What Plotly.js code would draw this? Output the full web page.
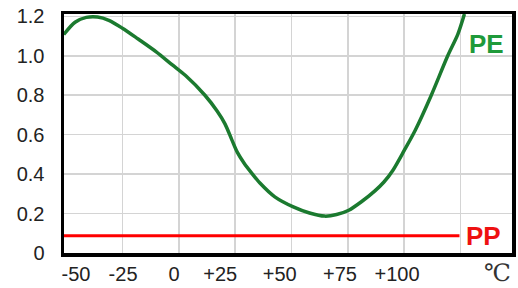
<!DOCTYPE html>
<html>
<head>
<meta charset="utf-8">
<script src="https://cdn.plot.ly/plotly-3.0.1.min.js"></script>
<style>html,body{margin:0;padding:0;background:#fff;}#chart{width:518px;height:288px;}</style>
</head>
<body>
<div id="chart"></div>
<script>
// PE curve (temperature °C vs value)
const peTemp = [-51, -46, -41, -36, -31, -25, -18, -10, -3, 3, 11.6, 17, 20.5, 23.5, 26, 29, 32, 36, 42.6, 50.8, 58, 64.7, 70, 75.4, 81, 87, 91, 95, 100, 105, 112, 119.3, 123.8, 126.7];
const peVal  = [1.108, 1.17, 1.195, 1.197, 1.18, 1.14, 1.085, 1.02, 0.955, 0.9, 0.8, 0.72, 0.655, 0.575, 0.51, 0.455, 0.41, 0.355, 0.285, 0.234, 0.203, 0.187, 0.195, 0.217, 0.26, 0.315, 0.36, 0.42, 0.52, 0.625, 0.80, 1.0, 1.11, 1.212];
// PP line
const ppTemp = [-51, 124.5];
const ppVal  = [0.087, 0.087];
// Axis tick labels
const xGridVals = [-25, 0, 25, 50, 75, 100, 125];
const xLabelPos = [-45.6, -24.7, -2.1, 18.4, 44.8, 71.5, 96.8];
const xLabelText = ["-50", "-25", "0", "+25", "+50", "+75", "+100"];
const yTickVals = [0, 0.2, 0.4, 0.6, 0.8, 1.0, 1.2];
const yTickText = ["0", "0.2", "0.4", "0.6", "0.8", "1.0", "1.2"];
const seriesNames = ["PE", "PP"];
const unitLabel = "\u2103";

const xRange = [-50.9, 147.8];
const yRange = [0, 1.212];

const traces = [
  {x: peTemp, y: peVal, type: 'scatter', mode: 'lines', name: seriesNames[0],
   line: {color: '#1b7a2f', width: 3.5, shape: 'spline', smoothing: 0.8}, xaxis: 'x', yaxis: 'y'},
  {x: ppTemp, y: ppVal, type: 'scatter', mode: 'lines', name: seriesNames[1],
   line: {color: '#ff0000', width: 3}, xaxis: 'x', yaxis: 'y'},
  {x: xRange, y: [null, null], type: 'scatter', mode: 'lines', xaxis: 'x2', yaxis: 'y', hoverinfo: 'skip', showlegend: false}
];

const layout = {
  width: 518, height: 288,
  margin: {l: 64, r: 6, t: 14, b: 35, pad: 0},
  paper_bgcolor: '#ffffff', plot_bgcolor: '#ffffff',
  showlegend: false,
  font: {family: '"Liberation Sans", Arial, sans-serif', color: '#222'},
  xaxis: {
    range: xRange, tickvals: xGridVals, showticklabels: false,
    showgrid: true, gridcolor: '#d4d4d4', gridwidth: 1.5,
    zeroline: false, showline: true, linecolor: '#000', linewidth: 3.5, mirror: true, ticks: ''
  },
  xaxis2: {
    overlaying: 'x', side: 'bottom', range: xRange,
    tickvals: xLabelPos, ticktext: xLabelText, showgrid: false, zeroline: false, showline: false,
    ticks: '', ticklabelstandoff: 7, tickfont: {size: 20, color: '#222'}
  },
  yaxis: {
    range: yRange, tickvals: yTickVals, ticktext: yTickText,
    showgrid: true, gridcolor: '#d4d4d4', gridwidth: 1.5,
    zeroline: false, showline: true, linecolor: '#000', linewidth: 3.5, mirror: true, ticks: '',
    ticklabelstandoff: 12, tickfont: {size: 20, color: '#222'}
  },
  annotations: [
    {x: 136.6, y: 1.06, xref: 'x', yref: 'y', text: '<b>' + seriesNames[0] + '</b>', showarrow: false,
     font: {size: 26, color: '#1f9a3a', family: '"Liberation Sans", Arial, sans-serif'}},
    {x: 135, y: 0.085, xref: 'x', yref: 'y', text: '<b>' + seriesNames[1] + '</b>', showarrow: false,
     font: {size: 26, color: '#ee1111', family: '"Liberation Sans", Arial, sans-serif'}},
    {x: 0.967, y: -0.085, xref: 'paper', yref: 'paper', xanchor: 'center', yanchor: 'middle', text: unitLabel, showarrow: false,
     font: {size: 24, color: '#333', family: '"DejaVu Serif", "Noto Sans CJK SC", serif'}}
  ]
};

Plotly.newPlot('chart', traces, layout, {staticPlot: true, displayModeBar: false});
</script>
</body>
</html>
